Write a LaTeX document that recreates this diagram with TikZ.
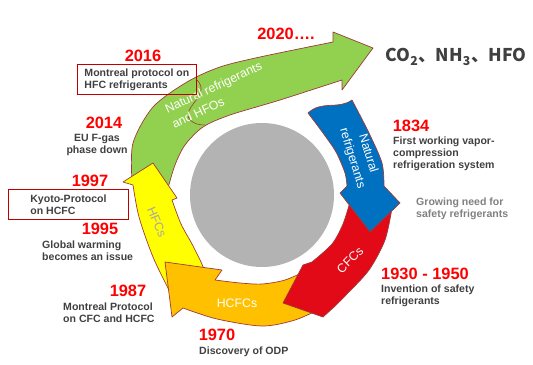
\documentclass[tikz,border=0pt]{standalone}
\usepackage{fontspec}
\setmainfont{Liberation Sans}
\newfontfamily\cjkfont{Noto Sans CJK SC}
\usepackage{xcolor}
\usepackage{tikz}
\definecolor{arwgreen}{HTML}{92D050}
\definecolor{arwyellow}{HTML}{FFFF00}
\definecolor{arworange}{HTML}{FFC000}
\definecolor{arwred}{HTML}{E20A16}
\definecolor{arwblue}{HTML}{0070C0}
\definecolor{arwline}{HTML}{A03A3A}
\definecolor{hubgray}{HTML}{B3B3B3}
\definecolor{yrred}{HTML}{FF0000}
\definecolor{txtgray}{HTML}{404040}
\definecolor{softgray}{HTML}{808080}
\definecolor{hfcgray}{HTML}{A6A6A6}
\definecolor{boxred}{HTML}{C00000}

\begin{document}
\begin{tikzpicture}[
    x=0.03cm,y=-0.03cm,
    arw/.style  = {draw=arwline,line width=0.6pt,line join=round},
    yr/.style   = {font=\bfseries\fontsize{14}{16}\selectfont,text=yrred,inner sep=0pt},
    txt/.style  = {font=\bfseries\fontsize{9}{10.2}\selectfont,text=txtgray,
                   align=left,inner sep=0pt},
    lbl/.style  = {font=\fontsize{10.5}{14}\selectfont,text=white,inner sep=0pt},
    note/.style = {txt,draw=boxred,line width=0.7pt,anchor=north west,
                   minimum height=0.9cm},
  ]
  \useasboundingbox (0,0) rectangle (533,364);

  \fill[hubgray] (262,195) circle[radius=2.16cm];

  % green: 2016 - 2020
  \path[arw,fill=arwgreen]
    plot[smooth] coordinates {(132,181) (133,143) (153,107) (187,82) (220,67) (260,57) (333,42)}
    -- (333,32) -- (373,48) -- (342,90)
    -- plot[smooth] coordinates {(342,80) (280,100) (230,115) (203,127) (185,145) (175,165) (168,188)}
    -- cycle;
  \draw[arwline,line width=0.5pt] (197,80) .. controls (212,95) and (180,108) .. (190,120)
    .. controls (194,124) and (200,125) .. (205,125);

  % yellow: HFCs
  \path[arw,fill=arwyellow]
    plot[smooth] coordinates {(170,292) (153,257) (139,217) (133,185)}
    -- (123,182) -- (153,163) -- (177,198)
    -- plot[smooth] coordinates {(172,200) (181,224) (192,244) (201,262) (205,272)}
    -- cycle;

  % orange: HCFCs
  \path[arw,fill=arworange]
    plot[smooth] coordinates {(308,270) (285,280) (262,284) (240,283) (215,280)}
    -- (222,270) -- (165,262) -- (172,317)
    -- plot[smooth] coordinates {(183,308) (217,319) (262,326) (295,320) (322,308)}
    -- cycle;

  % red: CFCs
  \path[arw,fill=arwred]
    plot[smooth] coordinates {(350,202) (343,224) (332,244) (312,262)}
    -- (303,265) -- (283,303) -- (323,317)
    -- plot[smooth] coordinates {(334,307) (346,295) (369,270) (385,240) (392,208)}
    -- cycle;

  % blue: natural refrigerants
  \path[arw,fill=arwblue]
    (308,113) .. controls (322,100) and (338,110) .. (352,100)
    -- plot[smooth] coordinates {(352,100) (369,133) (382,163) (384,186)}
    -- (400,203) -- (370,232) -- (340,193)
    -- plot[smooth] coordinates {(347,186) (345,173) (336,152) (323,133) (308,113)}
    -- cycle;

  \node[lbl,rotate=25,anchor=west,align=left] (lnat) at (169,117)
       {Natural refrigerants\\and HFOs};
  \node[lbl,rotate=-73,align=center] (lnat2) at (360,156) {Natural\\refrigerants};
  \node[lbl,rotate=45] (lcfc) at (350,260) {CFCs};
  \node[lbl] (lhcfc) at (237,303) {HCFCs};
  \node[lbl,rotate=-67,text=hfcgray] (lhfc) at (157,222) {HFCs};

  \node[yr] (y2020) at (286,34) {2020….};
  \node[font=\cjkfont\bfseries\fontsize{15}{17}\selectfont,text=txtgray,inner sep=0pt]
       (eco) at (456,57) {CO\textsubscript{2}、NH\textsubscript{3}、HFO};

  \node[yr] (y2016) at (143,56) {2016};
  \node[note,minimum width=3.57cm] (n2016) at (77,64)
       {Montreal protocol on\\HFC refrigerants};
  \node[yr] (y2014) at (104,123) {2014};
  \node[txt,align=center] (n2014) at (97,145) {EU F-gas\\phase down};
  \node[yr] (y1997) at (90,181) {1997};
  \node[note,minimum width=3.6cm] (n1997) at (8,189)
       {Kyoto-Protocol\\on HCFC};
  \node[yr] (y1995) at (100,229) {1995};
  \node[txt,anchor=west] (n1995) at (42,251) {Global warming\\becomes an issue};
  \node[yr] (y1987) at (128,291) {1987};
  \node[txt,anchor=west] (n1987) at (63,313) {Montreal Protocol\\on CFC and HCFC};
  \node[yr] (y1970) at (217,335) {1970};
  \node[txt,anchor=west] (n1970) at (199,352) {Discovery of ODP};

  \node[yr] (y1834) at (411,126) {1834};
  \node[txt,anchor=west] (n1834) at (393,154)
       {First working vapor-\\compression\\refrigeration system};
  \node[txt,anchor=west,text=softgray] (ngrow) at (416,209)
       {Growing need for\\safety refrigerants};
  \node[yr] (y1930) at (425,274) {1930 - 1950};
  \node[txt,anchor=west] (n1930) at (381,296) {Invention of safety\\refrigerants};

\end{tikzpicture}
\end{document}
